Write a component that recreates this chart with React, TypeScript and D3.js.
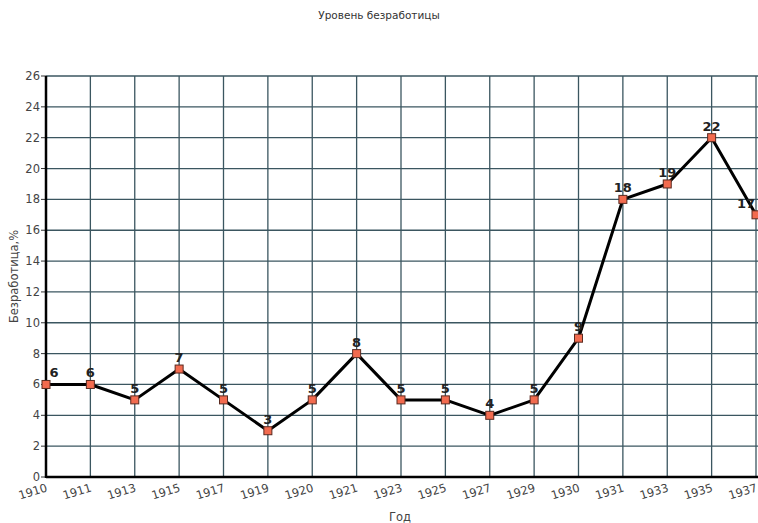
import React from "react";
import * as d3 from "d3";

const years = ["1910","1911","1913","1915","1917","1919","1920","1921","1923","1925","1927","1929","1930","1931","1933","1935","1937"];
const rates = [6,6,5,7,5,3,5,8,5,5,4,5,9,18,19,22,17];
const yTicks = [0,2,4,6,8,10,12,14,16,18,20,22,24,26];
const title = "Уровень безработицы";
const yTitle = "Безработица,%";
const xTitle = "Год";

const W = 758, H = 523;
const left = 46, right = 756, top = 76, bottom = 477;

export default function App() {
  const x = d3.scalePoint<string>().domain(years).range([left, right]);
  const y = d3.scaleLinear().domain([0, 26]).range([bottom, top]);
  const line = d3.line<number>().x((_, i) => x(years[i])!).y((d) => y(d));
  const font = "'DejaVu Sans', sans-serif";
  const grid = "#3b5660";
  return (
    <svg width={W} height={H} style={{ position: "absolute", left: 0, top: 0, background: "#fff" }}>
      <rect width={W} height={H} fill="#fff" />
      <text x={379} y={19} textAnchor="middle" fontFamily={font} fontSize={10.5} fill="#333">{title}</text>
      {yTicks.map((t) => (
        <g key={"y" + t}>
          <line x1={left} x2={right + 2} y1={y(t)} y2={y(t)} stroke={grid} strokeWidth={1.3} />
          <line x1={left - 5} x2={left} y1={y(t)} y2={y(t)} stroke="#333" strokeWidth={1} />
          <text x={left - 6} y={y(t) + 4} textAnchor="end" fontFamily={font} fontSize={11.5} fill="#444">{t}</text>
        </g>
      ))}
      {years.map((yr) => (
        <g key={"x" + yr}>
          <line x1={x(yr)} x2={x(yr)} y1={top} y2={bottom} stroke={grid} strokeWidth={1.3} />
          <text transform={`translate(${x(yr)! + 2},${bottom + 14}) rotate(-17)`} textAnchor="end" fontFamily={font} fontSize={11.5} fill="#444">{yr}</text>
        </g>
      ))}
      <line x1={left} x2={left} y1={top} y2={bottom + 1} stroke="#000" strokeWidth={2.5} />
      <line x1={left} x2={right + 2} y1={bottom} y2={bottom} stroke="#000" strokeWidth={2.5} />
      <text transform={`translate(18,${(top + bottom) / 2}) rotate(-90)`} textAnchor="middle" fontFamily={font} fontSize={11.5} fill="#444">{yTitle}</text>
      <text x={400} y={521} textAnchor="middle" fontFamily={font} fontSize={11.5} fill="#444">{xTitle}</text>
      <path d={line(rates) || ""} fill="none" stroke="#000" strokeWidth={3} strokeLinejoin="round" />
      {rates.map((v, i) => {
        const px = x(years[i])!;
        const lx = Math.max(left + 8, Math.min(right - 10, px));
        return (
          <g key={"p" + i}>
            <rect x={px - 4} y={y(v) - 4} width={8} height={8} fill="#f26b4f" stroke="#5a2a20" strokeWidth={1} />
            <text x={lx} y={y(v) - 7} textAnchor="middle" fontFamily={font} fontSize={13} fontWeight="bold" fill="#222">{v}</text>
          </g>
        );
      })}
    </svg>
  );
}
